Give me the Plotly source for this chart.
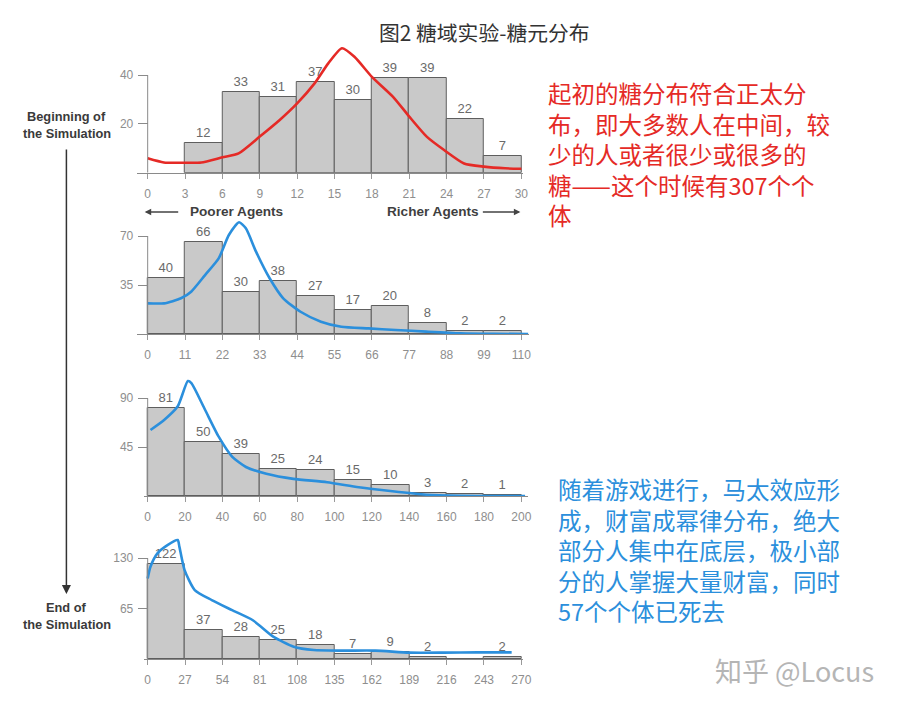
import plotly.graph_objects as go

# ---------------- data ----------------
# Panel 1: beginning of the simulation (bins of 3)
p1_bin_left = [3, 6, 9, 12, 15, 18, 21, 24, 27]
p1_counts = [12, 33, 31, 37, 30, 39, 39, 22, 7]
p1_xticks = [0, 3, 6, 9, 12, 15, 18, 21, 24, 27, 30]
p1_yticks = [20, 40]
p1_curve_x = [0, 1.3, 3.0, 4.3, 6.0, 7.3, 9.0, 10.6, 12.0, 13.4, 14.5, 15.6, 16.6, 18.0, 19.7, 21.0, 22.4, 23.8, 25.4, 27.0, 28.7, 30.0]
p1_curve_y = [5.9, 4.2, 4.1, 4.2, 6.3, 7.9, 14.8, 21.6, 28.4, 36.6, 44.8, 51.0, 47.5, 39.3, 31.1, 23.0, 14.8, 9.3, 3.8, 2.5, 1.8, 1.6]

# Panel 2 (bins of 11)
p2_bin_left = [0, 11, 22, 33, 44, 55, 66, 77, 88, 99]
p2_counts = [40, 66, 30, 38, 27, 17, 20, 8, 2, 2]
p2_xticks = [0, 11, 22, 33, 44, 55, 66, 77, 88, 99, 110]
p2_yticks = [35, 70]
p2_curve_x = [0, 4.8, 9.8, 12.8, 16.9, 20.9, 23.9, 26.9, 28.9, 31.9, 35.9, 39.9, 45, 51, 57, 65, 73, 82, 92, 102, 112]
p2_curve_y = [21.9, 21.9, 25.5, 30.2, 42.1, 54.0, 70.7, 79.8, 75.5, 58.8, 39.8, 25.5, 15.9, 8.8, 5.2, 4.0, 2.9, 1.7, 0.5, 0.1, 0.0]

# Panel 3 (bins of 20)
p3_bin_left = [0, 20, 40, 60, 80, 100, 120, 140, 160, 180]
p3_counts = [81, 50, 39, 25, 24, 15, 10, 3, 2, 1]
p3_xticks = [0, 20, 40, 60, 80, 100, 120, 140, 160, 180, 200]
p3_yticks = [45, 90]
p3_curve_x = [1.5, 8.8, 16.1, 21.5, 23.4, 30.7, 38.0, 45.3, 52.6, 63.5, 78, 96, 113, 131, 149, 167, 186, 202]
p3_curve_y = [60.8, 70.0, 82.6, 105.8, 104.0, 79.4, 54.6, 36.0, 26.7, 20.5, 15.8, 12.7, 8.0, 4.3, 1.2, 0.2, 0.0, 0.0]

# Panel 4: end of the simulation (bins of 27)
p4_bin_left = [0, 27, 54, 81, 108, 135, 162, 189, 216, 243]
p4_counts = [122, 37, 28, 25, 18, 7, 9, 2, 0, 2]
p4_xticks = [0, 27, 54, 81, 108, 135, 162, 189, 216, 243, 270]
p4_yticks = [65, 130]
p4_curve_x = [0, 2, 6.9, 14.3, 21.7, 22.9, 26.6, 34, 46.3, 61, 76, 90.7, 105.5, 120, 140, 164.6, 189, 214, 238.5, 263]
p4_curve_y = [104, 119, 136, 147, 153.5, 145, 115, 89, 76, 63, 50, 28.8, 15.9, 11.6, 10.8, 10.8, 8.2, 8.2, 8.6, 8.6]

title_text = "图2 糖域实验-糖元分布"
red_lines = ["起初的糖分布符合正太分", "布，即大多数人在中间，较", "少的人或者很少或很多的",
             "糖——这个时候有307个个", "体"]
blue_lines = ["随着游戏进行，马太效应形", "成，财富成幂律分布，绝大", "部分人集中在底层，极小部",
              "分的人掌握大量财富，同时", "57个个体已死去"]

RED = "#e52a26"
BLUE = "#2b8fdc"

# ---------------- layout helpers ----------------
W, H = 903, 709
def fx(p):
    return p / W
def fy(p):
    return 1 - p / H

panels = [
    dict(left=p1_bin_left, counts=p1_counts, w=3, xt=p1_xticks, yt=p1_yticks, cx=p1_curve_x, cy=p1_curve_y,
         color=RED, xl=138, x0=149, x1=526, xr=528, base=172.7, ppu=2.44, top=44),
    dict(left=p2_bin_left, counts=p2_counts, w=11, xt=p2_xticks, yt=p2_yticks, cx=p2_curve_x, cy=p2_curve_y,
         color=BLUE, xl=138, x0=149, x1=526, xr=534, base=334, ppu=1.4, top=218),
    dict(left=p3_bin_left, counts=p3_counts, w=20, xt=p3_xticks, yt=p3_yticks, cx=p3_curve_x, cy=p3_curve_y,
         color=BLUE, xl=145, x0=149, x1=526, xr=533, base=496, ppu=1.086, top=376),
    dict(left=p4_bin_left, counts=p4_counts, w=27, xt=p4_xticks, yt=p4_yticks, cx=p4_curve_x, cy=p4_curve_y,
         color=BLUE, xl=145, x0=149, x1=526, xr=528, base=659, ppu=0.775, top=534),
]

fig = go.Figure()
shapes = []
layout_axes = {}
LATIN = "Liberation Sans, Arial, sans-serif"
CJK = "Noto Sans CJK SC, sans-serif"

for i, p in enumerate(panels):
    n = "" if i == 0 else str(i + 1)
    xa, ya = "x" + n, "y" + n
    xmax = p["xt"][-1]
    u = xmax / (p["x1"] - p["x0"])
    xr0 = -(p["x0"] - p["xl"]) * u
    xr1 = xmax + (p["xr"] - p["x1"]) * u
    ymax = (p["base"] - p["top"]) / p["ppu"]

    fig.add_trace(go.Bar(
        x=[l + p["w"] / 2 for l in p["left"]], y=p["counts"], width=p["w"],
        marker=dict(color="#c9c9c9", line=dict(color="#5e5e5e", width=1)),
        text=[str(c) if c > 0 else "" for c in p["counts"]], textposition="outside",
        textfont=dict(family=LATIN, size=13, color="#6a6a6a"), cliponaxis=False,
        constraintext="none", showlegend=False, hoverinfo="skip", xaxis=xa, yaxis=ya))
    fig.add_trace(go.Scatter(
        x=p["cx"], y=p["cy"], mode="lines",
        line=dict(color=p["color"], width=2.6, shape="spline", smoothing=0.6),
        showlegend=False, hoverinfo="skip", xaxis=xa, yaxis=ya))

    layout_axes["xaxis" + n] = dict(
        domain=[fx(p["xl"]), fx(p["xr"])], range=[xr0, xr1], anchor=ya,
        tickvals=p["xt"], ticks="outside", ticklen=5, tickcolor="#9a9a9a",
        showline=True, linecolor="#8a8a8a", linewidth=1, showgrid=False, zeroline=False,
        tickfont=dict(family=LATIN, size=12, color="#8e8e8e"), ticklabelstandoff=5, fixedrange=True)
    layout_axes["yaxis" + n] = dict(
        domain=[fy(p["base"]), fy(p["top"])], range=[0, ymax], anchor="free", position=fx(p["x0"]),
        tickvals=p["yt"], ticks="outside", ticklen=10, tickcolor="#8a8a8a",
        showline=False, showgrid=False, zeroline=False,
        tickfont=dict(family=LATIN, size=12, color="#8e8e8e"), ticklabelstandoff=2, fixedrange=True)
    shapes.append(dict(type="line", xref=xa, yref=ya, x0=0, x1=0, y0=0, y1=p["yt"][-1],
                       line=dict(color="#8a8a8a", width=1)))

annotations = []

def label(txt, x, y, size, color, family, xanchor="center"):
    annotations.append(dict(text=txt, x=fx(x), y=fy(y), xref="paper", yref="paper",
                            xanchor=xanchor, yanchor="middle", align="left", showarrow=False,
                            font=dict(family=family, size=size, color=color)))

# title
label(title_text, 489, 32, 20.8, "#333333", CJK)
# left side labels
for txt, yy in [("Beginning of", 117), ("the Simulation", 133), ("End of", 607), ("the Simulation", 624)]:
    label("<b>" + txt + "</b>", 67.5, yy, 12.8, "#3a3a3a", LATIN)
# vertical arrow
annotations.append(dict(text="", x=fx(67), y=fy(594), xref="paper", yref="paper", showarrow=True,
                        ax=0, ay=-446, axref="pixel", ayref="pixel", arrowhead=2, arrowsize=1.2,
                        arrowwidth=1.5, arrowcolor="#333333"))
# Poorer / Richer agents
label("<b>Poorer Agents</b>", 238.5, 212, 13.6, "#3f3f3f", LATIN)
label("<b>Richer Agents</b>", 436.5, 212, 13.6, "#3f3f3f", LATIN)
annotations.append(dict(text="", x=fx(146), y=fy(212), xref="paper", yref="paper", showarrow=True,
                        ax=35, ay=0, arrowhead=2, arrowsize=1, arrowwidth=1.3, arrowcolor="#444444"))
annotations.append(dict(text="", x=fx(525), y=fy(212), xref="paper", yref="paper", showarrow=True,
                        ax=-39, ay=0, arrowhead=2, arrowsize=1, arrowwidth=1.3, arrowcolor="#444444"))
# red explanation (one block)
label("<br>".join(red_lines), 551, 153.5, 23.5, RED, CJK, xanchor="left")
# blue explanation (one block)
label("<br>".join(blue_lines), 561, 550, 23.5, BLUE, CJK, xanchor="left")
# watermark
label("知乎 @Locus", 719, 670, 27, "#b5b5b5", CJK, xanchor="left")

fig.update_layout(
    width=W, height=H, autosize=False, margin=dict(l=0, r=0, t=0, b=0),
    paper_bgcolor="white", plot_bgcolor="rgba(0,0,0,0)", bargap=0,
    shapes=shapes, annotations=annotations, **layout_axes)

fig.write_html("out.html")
